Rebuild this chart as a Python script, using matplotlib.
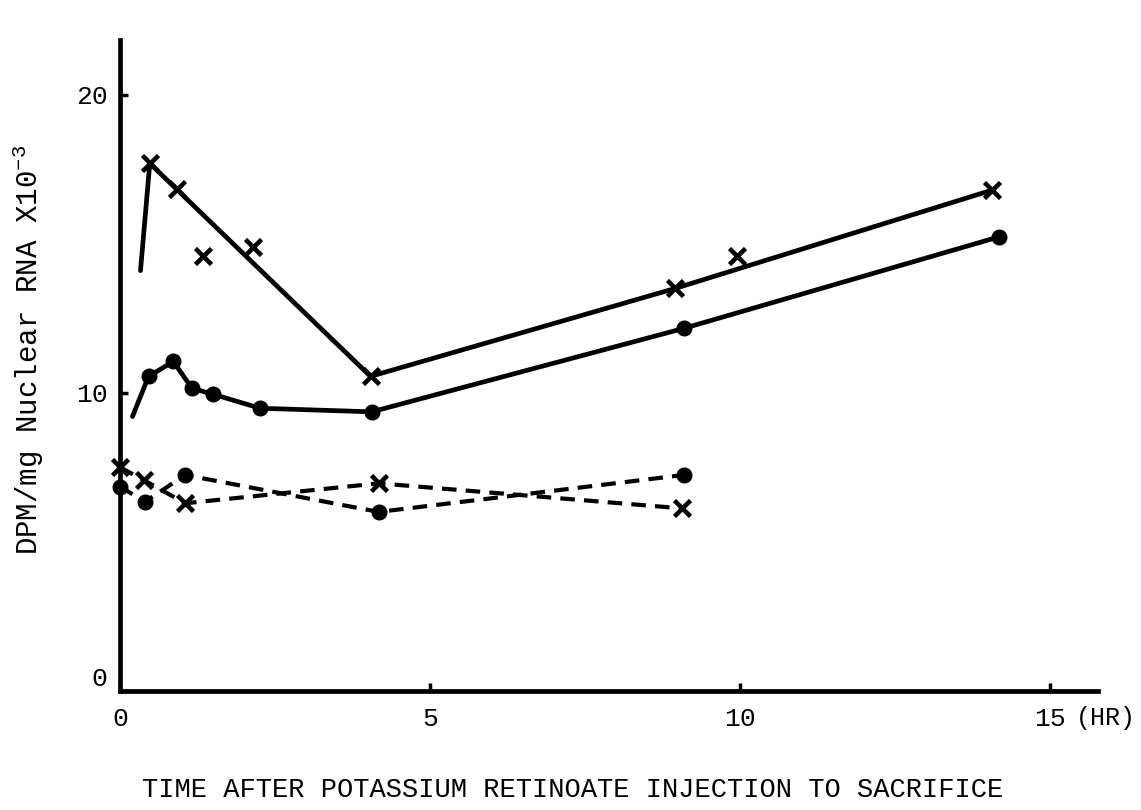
import matplotlib
matplotlib.use("Agg")
import matplotlib.pyplot as plt

plt.rcParams['font.family'] = ['Liberation Mono', 'DejaVu Sans Mono']
plt.rcParams['mathtext.fontset'] = 'custom'
plt.rcParams['mathtext.rm'] = 'Liberation Mono'
plt.rcParams['mathtext.it'] = 'Liberation Mono'

# hours after injection / DPM per mg nuclear RNA (x10^-3)
# upper solid curve (x marks) - the line and the plotted points differ a bit
upper_line_t = [0.33, 0.48, 4.04, 8.95, 14.06]
upper_line_v = [14.1, 17.7, 10.55, 13.5, 16.8]
upper_pts_t = [0.48, 0.92, 1.33, 2.14, 4.04, 8.95, 9.95, 14.06]
upper_pts_v = [17.7, 16.85, 14.6, 14.9, 10.55, 13.5, 14.6, 16.8]

# lower solid curve (dots)
lower_t = [0.2, 0.46, 0.86, 1.16, 1.5, 2.26, 4.06, 9.09, 14.17]
lower_v = [9.2, 10.55, 11.05, 10.15, 9.95, 9.48, 9.36, 12.16, 15.23]

# dashed curves
dash_x_t = [0.0, 0.38, 1.05, 4.17, 9.06]
dash_x_v = [7.5, 7.07, 6.29, 6.96, 6.12]
dash_o_t = [0.0, 0.40, 1.05, 4.17, 9.09]
dash_o_v = [6.85, 6.34, 7.24, 6.0, 7.24]

x_ticks = [0, 5, 10, 15]
y_ticks = [0, 10, 20]

fig = plt.figure(figsize=(11.41, 8.10), dpi=100)
ax = fig.add_axes([0.1052, 0.1473, 0.857, 0.8033])

lw = 3.4
ax.plot(upper_line_t, upper_line_v, color='black', lw=lw, solid_capstyle='round')
ax.plot(upper_pts_t, upper_pts_v, ls='none', marker='x', ms=12, mew=3.3, color='black')

ax.plot(lower_t, lower_v, color='black', lw=lw, solid_capstyle='round',
        marker='o', ms=10.5, markevery=list(range(1, len(lower_t))))

ax.plot(dash_x_t, dash_x_v, color='black', lw=3.0, dashes=(3.5, 2.2),
        marker='x', ms=12, mew=3.3, clip_on=False)
ax.plot(dash_o_t, dash_o_v, color='black', lw=3.0, dashes=(3.5, 2.2),
        marker='o', ms=10.5, clip_on=False)

ax.set_xlim(0, 15.77)
ax.set_ylim(0, 21.84)

for side in ['top', 'right']:
    ax.spines[side].set_visible(False)
for side in ['left', 'bottom']:
    ax.spines[side].set_linewidth(3.4)

ax.set_xticks(x_ticks)
ax.set_xticklabels([str(t) for t in x_ticks])
ax.set_yticks(y_ticks)
ax.set_yticklabels([str(t) for t in y_ticks])
ax.tick_params(axis='x', direction='in', length=6, width=2.5, pad=12, labelsize=19)
ax.tick_params(axis='y', direction='in', length=6, width=2.5, pad=9, labelsize=19)
ax.get_yticklabels()[0].set_va('bottom')

fig.text(1136 / 1141, 1 - 718 / 810, '(HR)', ha='right', va='center', fontsize=18)

fig.text(573 / 1141, 1 - 790 / 810,
         'TIME AFTER POTASSIUM RETINOATE INJECTION TO SACRIFICE',
         ha='center', va='center', fontsize=19.5)
fig.text(28 / 1141, 1 - 350 / 810, r'DPM/mg Nuclear RNA X10$^{-3}$',
         ha='center', va='center', rotation=90, fontsize=21)

fig.savefig('out.png', dpi=100, facecolor='white')
